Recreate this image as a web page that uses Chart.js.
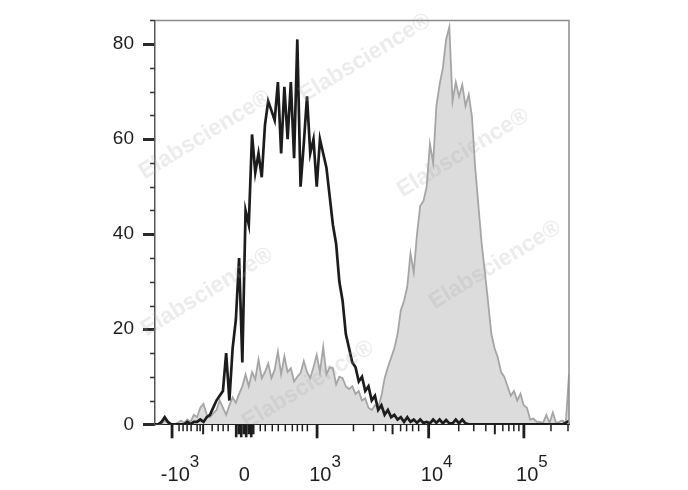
<!DOCTYPE html>
<html>
<head>
<meta charset="utf-8">
<script src="https://cdn.jsdelivr.net/npm/chart.js@4.4.1/dist/chart.umd.min.js"></script>
<style>
  html, body { margin: 0; padding: 0; background: #ffffff; }
  #wrap { position: relative; width: 688px; height: 490px; }
</style>
</head>
<body>
<div id="wrap"><canvas id="hist"></canvas></div>
<script>
// Histogram counts per display channel (0..128)
const blackCounts = [
  0, 0, 0.5, 1.5, 0.5, 0, 0, 0, 0, 0,
  0.5, 0, 0.5, 0.5, 1, 0.5, 1.5, 2, 3.5, 5,
  6, 7, 15, 5, 16, 22, 35, 13, 45, 42,
  61, 53, 57, 52, 63, 68, 66, 64, 72, 57,
  71, 60, 72, 56, 81, 50, 59, 69, 57, 60,
  50, 60, 57, 54, 48, 42, 38, 30, 26, 19,
  16, 13, 12, 9, 10, 7, 8, 5, 6, 3,
  4, 2, 3, 1.5, 2, 1, 1.5, 0.5, 1.5, 0.5,
  1, 0.3, 1, 0.3, 0.5, 0.2, 1, 0.3, 1, 0.2,
  0.9, 0.2, 0.2, 1, 0.2, 1, 0.2, 0, 0, 0,
  0, 0, 0, 0, 0, 0, 0, 0, 0, 0,
  0, 0, 0, 0, 0, 0, 0, 0, 0, 0,
  0, 0, 0, 0, 0, 0, 0, 0.3, 0.7
];

const grayCounts = [
  0, 0, 0, 0.8, 0.3, 0, 0, 0.3, 0.8, 0.3,
  1, 0.5, 2, 1.5, 3.5, 4.3, 2, 1.5, 2.3, 3,
  5, 3.5, 2, 4, 5.7, 4.5, 6.4, 8, 10.5, 8,
  11, 9.5, 13.6, 9.7, 11, 12.8, 9.7, 11.5, 15.3, 10.5,
  14.3, 11, 11.8, 9, 10, 10.8, 13.3, 11, 9.7, 12,
  14.6, 11, 16.3, 10.5, 12, 11.8, 8.4, 10, 9.7, 8,
  7.4, 8, 6.4, 7, 5, 5.5, 3.5, 3, 4, 3.6,
  6, 9.7, 12, 14, 16, 19, 24, 26, 29, 36,
  32, 40, 46, 47, 50, 59, 55, 67, 71.5, 75,
  81, 83.6, 68, 72, 69, 71.5, 67, 69.4, 64.7, 54,
  46, 38, 32, 25.6, 19, 16, 14, 11, 10, 8,
  6, 7, 5, 6.4, 4, 3.5, 1, 1.2, 0.5, 0.5,
  0.3, 2, 0.3, 2.5, 0.3, 0.5, 0.8, 0.3, 10.5
];

// Y axis
const yMajorTicks = [0, 20, 40, 60, 80];
const yMinorTicks = [5, 10, 15, 25, 30, 35, 45, 50, 55, 65, 70, 75, 85];

// X axis (biexponential display, positions in channel units)
const xMajorTicks = [5.27, 50.11, 84.61, 114.05];
const xMediumTicks = [14.88, 73.45, 105.07];
const xMinorTicks = [
  7.44, 8.68, 9.92, 11.16, 13.02, 13.95, 17.67, 19.53, 21.07, 22.62,
  32.54, 34.09, 36.26, 38.12, 40.29, 42.46, 44.01, 45.56, 47.11,
  61.36, 67.56, 71.28, 75.93, 77.79, 79.65, 81.51,
  93.91, 98.56, 102.28, 107.54, 109.40, 110.95, 112.50,
  122.42, 127.69
];
const xZeroCluster = [25.10, 25.88, 26.65, 27.43, 28.20, 28.98, 29.75, 30.37];
const xLabelPos = [5.27, 27.9, 50.11, 84.61, 114.05];
const xLabelBase = ['-10', '0', '10', '10', '10'];
const xLabelExp = ['3', '', '3', '4', '5'];

const watermarkSpots = [[205, 135], [365, 58], [463, 153], [207, 292], [495, 265], [308, 385]];

const FONT = '"Liberation Sans", Arial, sans-serif';

function toPoints(arr) {
  return arr.map((v, i) => ({ x: i, y: v }));
}

const axisDecor = {
  id: 'axisDecor',
  afterDatasetsDraw(chart) {
    const { ctx } = chart;
    ctx.save();
    ctx.font = 'bold 23px ' + FONT;
    ctx.fillStyle = 'rgba(170, 170, 170, 0.22)';
    ctx.textAlign = 'center';
    ctx.textBaseline = 'middle';
    watermarkSpots.forEach(([wx, wy]) => {
      ctx.save();
      ctx.translate(wx, wy);
      ctx.rotate(-0.55);
      ctx.fillText('Elabscience\u00AE', 0, 0);
      ctx.restore();
    });
    ctx.restore();
  },
  afterDraw(chart) {
    const { ctx, chartArea: a, scales } = chart;
    const x = scales.x, y = scales.y;
    ctx.save();

    // top and right frame
    ctx.strokeStyle = '#8c8c8c';
    ctx.lineWidth = 1.5;
    ctx.beginPath();
    ctx.moveTo(a.left, a.top);
    ctx.lineTo(a.right, a.top);
    ctx.lineTo(a.right, a.bottom);
    ctx.stroke();

    // y minor ticks
    ctx.strokeStyle = '#333333';
    ctx.lineWidth = 1.5;
    yMinorTicks.forEach(v => {
      const py = Math.round(y.getPixelForValue(v)) + 0.5;
      ctx.beginPath();
      ctx.moveTo(a.left - 5, py);
      ctx.lineTo(a.left, py);
      ctx.stroke();
    });

    // x ticks
    const drawTick = (v, len, w) => {
      const px = x.getPixelForValue(v);
      ctx.lineWidth = w;
      ctx.beginPath();
      ctx.moveTo(px, a.bottom);
      ctx.lineTo(px, a.bottom + len);
      ctx.stroke();
    };
    ctx.strokeStyle = '#1e1e1e';
    xMinorTicks.forEach(v => drawTick(v, 7, 1.5));
    xMediumTicks.forEach(v => drawTick(v, 10, 2));
    xMajorTicks.forEach(v => drawTick(v, 14, 2.8));
    xZeroCluster.forEach((v, i) => drawTick(v, (i % 2 === 0) ? 13 : 10, 2.6));

    // x labels with superscript exponents
    ctx.fillStyle = '#1e1e1e';
    ctx.textBaseline = 'alphabetic';
    ctx.textAlign = 'left';
    xLabelPos.forEach((v, i) => {
      const px = x.getPixelForValue(v);
      ctx.font = '20px ' + FONT;
      const wb = ctx.measureText(xLabelBase[i]).width;
      ctx.font = '17px ' + FONT;
      const we = xLabelExp[i] ? ctx.measureText(xLabelExp[i]).width : 0;
      const cx = xLabelExp[i] ? px + 8 : px - 1;
      const left = cx - (wb + we) / 2;
      ctx.font = '20px ' + FONT;
      ctx.fillText(xLabelBase[i], left, 481);
      if (xLabelExp[i]) {
        ctx.font = '17px ' + FONT;
        ctx.fillText(xLabelExp[i], left + wb, 467);
      }
    });
    ctx.restore();
  }
};

new Chart(document.getElementById('hist'), {
  type: 'line',
  data: {
    datasets: [
      {
        label: 'Stained',
        data: toPoints(blackCounts),
        borderColor: '#1c1c1c',
        borderWidth: 2.7,
        pointRadius: 0,
        fill: false,
        tension: 0
      },
      {
        label: 'Control',
        data: toPoints(grayCounts),
        borderColor: '#a5a5a5',
        backgroundColor: '#dcdcdc',
        borderWidth: 1.8,
        pointRadius: 0,
        fill: 'origin',
        tension: 0
      }
    ]
  },
  options: {
    responsive: true,
    maintainAspectRatio: false,
    animation: false,
    events: [],
    layout: { padding: { top: 11.5, right: 119, left: 0, bottom: 0 } },
    plugins: { legend: { display: false }, tooltip: { enabled: false } },
    scales: {
      x: {
        type: 'linear',
        min: 0,
        max: 128,
        grid: { display: false },
        border: { display: true, color: '#1e1e1e', width: 2 },
        ticks: { display: false },
        afterFit(scale) { scale.height = 65.7; }
      },
      y: {
        min: 0,
        max: 85,
        afterBuildTicks(scale) { scale.ticks = yMajorTicks.map(v => ({ value: v })); },
        grid: { drawOnChartArea: false, drawTicks: true, tickLength: 12, lineWidth: 3, color: '#2a2a2a' },
        border: { display: true, color: '#555555', width: 1.5 },
        ticks: { padding: 9, color: '#1e1e1e', font: { family: FONT, size: 19 } },
        afterFit(scale) { scale.width = 155; }
      }
    }
  },
  plugins: [axisDecor]
});
</script>
</body>
</html>
